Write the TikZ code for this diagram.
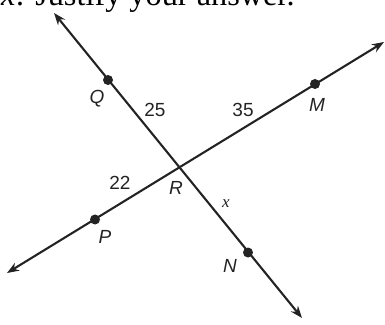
\documentclass[tikz,border=0pt]{standalone}
\usepackage{fontspec}
\setmainfont{Liberation Serif}
\newfontfamily\lblfont{Liberation Sans}
\usetikzlibrary{arrows.meta}
\definecolor{ink}{RGB}{35,35,35}
\tikzset{
  rayline/.style={draw=ink, line width=2.1pt, {Stealth[length=12pt,width=9pt]}-{Stealth[length=12pt,width=9pt]}},
  ptdot/.style={circle, fill=ink, inner sep=0pt, minimum size=10pt},
  lbl/.style={font=\lblfont\fontsize{19}{19}\selectfont\itshape, text=ink, inner sep=0pt},
  num/.style={font=\lblfont\fontsize{19}{19}\selectfont, text=ink, inner sep=0pt},
  xlbl/.style={font=\fontsize{17}{17}\selectfont\itshape, text=ink, inner sep=0pt},
  toptext/.style={font=\fontsize{32.3}{32}\selectfont, text=black, inner sep=0pt, anchor=base west}
}
\begin{document}
\begin{tikzpicture}[x=1pt,y=1pt]
\useasboundingbox (0,0) rectangle (385,324);
% ray ends
\coordinate (a1) at (54,311);
\coordinate (a2) at (302,6);
\coordinate (b1) at (7,51);
\coordinate (b2) at (384,282);
\coordinate (R) at (179,156.5);
% lines
\draw[rayline] (a1) -- (a2);
\draw[rayline] (b1) -- (b2);
% points
\node[ptdot] (Q) at (108,244) {};
\node[ptdot] (N) at (248,71.5) {};
\node[ptdot] (P) at (95,104.5) {};
\node[ptdot] (M) at (315,240) {};
% labels
\node[lbl] (lQ) at (97,225.5) {Q};
\node[lbl] (lM) at (317,219) {M};
\node[lbl] (lR) at (176,136) {R};
\node[lbl] (lP) at (105,87) {P};
\node[lbl] (lN) at (230,58) {N};
\node[num] (n25) at (155,214) {25};
\node[num] (n35) at (243,214) {35};
\node[num] (n22) at (120,141) {22};
\node[xlbl] (lx) at (226,120) {x};
% top text
\node[toptext] (top) at (1,318) {\textit{x}: Justify your answer.};
\end{tikzpicture}
\end{document}
